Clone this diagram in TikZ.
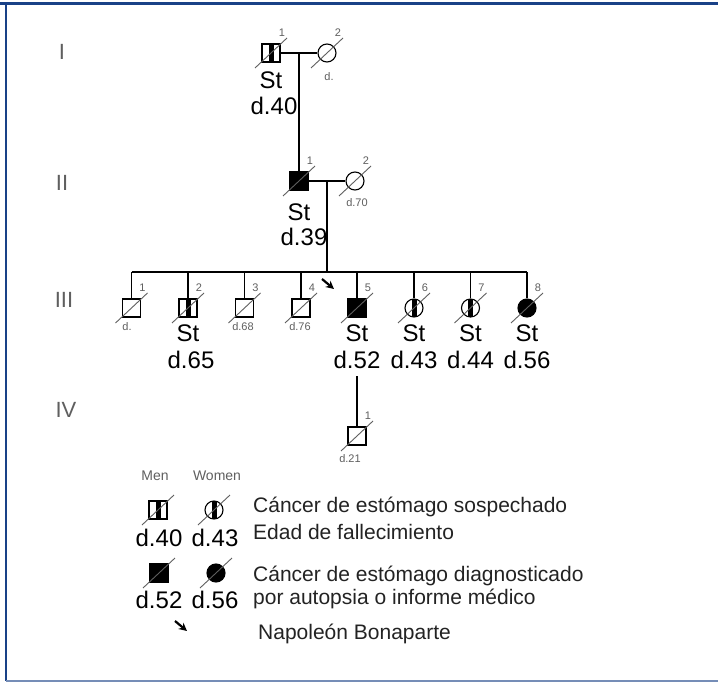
\documentclass[tikz,border=0pt]{standalone}
\usepackage{fontspec}
\setmainfont{Liberation Sans}
\usetikzlibrary{arrows.meta,shapes,positioning,calc}
\definecolor{myblue}{RGB}{25,65,135}
\definecolor{mygray}{RGB}{95,95,95}
\definecolor{mytext}{RGB}{35,35,35}

\begin{document}
\begin{tikzpicture}[x=1pt,y=-1pt,
  man/.style={draw,rectangle,minimum size=18pt,inner sep=0pt,line width=1.1pt},
  woman/.style={draw,circle,minimum size=18pt,inner sep=0pt,line width=1.1pt},
  sick/.style={fill=black},
  doubt/.style={path picture={\fill ([xshift=-2.5pt]path picture bounding box.north) rectangle ([xshift=2.5pt]path picture bounding box.south);}},
  bigtxt/.style={font=\fontsize{24}{24}\selectfont,inner sep=0pt},
  numlab/.style={font=\fontsize{11}{11}\selectfont,mygray,inner sep=0pt},
  gen/.style={font=\fontsize{22}{22}\selectfont,mygray,inner sep=0pt},
  leg/.style={font=\fontsize{21}{21}\selectfont,mytext,anchor=west,inner sep=0pt},
  kin/.style={line width=1.9pt},
  dead/.style={mygray,line width=0.9pt}]
\useasboundingbox (0,0) rectangle (718,682);
\fill[white] (0,0) rectangle (718,682);
\draw[myblue,line width=3pt] (0,3.5) -- (718,3.5);
\draw[myblue,line width=2pt] (5.5,3.5) -- (5.5,681);
\draw[myblue!60,line width=2pt] (5.5,681) -- (718,681);

% generations
\node[gen] (gI) at (62,52) {I};
\node[gen] (gII) at (62,183) {II};
\node[gen] (gIII) at (64,300) {III};
\node[gen] (gIV) at (66,410) {IV};

% I
\node[man,doubt] (i1) at (271,53) {};
\node[woman] (i2) at (327,53) {};
\draw[kin] (i1) -- (i2);
\coordinate (m1) at ($(i1)!0.5!(i2)$);
\node[bigtxt] (i1st) at (271,80) {St};
\node[bigtxt] (i1d) at (274,106) {d.40};

% II
\node[man,sick] (ii1) at (299,181) {};
\node[woman] (ii2) at (355,181) {};
\draw[kin] (ii1) -- (ii2);
\draw[kin] (m1) -- (ii1);
\coordinate (m2) at ($(ii1)!0.5!(ii2)$);
\coordinate (sib) at (327,272);
\draw[kin] (m2) -- (sib);
\node[bigtxt] (ii1st) at (299,212) {St};
\node[bigtxt] (ii1d) at (304,237) {d.39};

% III
\node[man] (iii1) at (131.5,308) {};
\node[man,doubt] (iii2) at (188,308) {};
\node[man] (iii3) at (244.5,308) {};
\node[man] (iii4) at (301,308) {};
\node[man,sick] (iii5) at (357,308) {};
\node[woman,doubt] (iii6) at (414,308) {};
\node[woman,doubt] (iii7) at (470.5,308) {};
\node[woman,sick] (iii8) at (527,308) {};
\draw[kin] (iii1 |- sib) -- (iii8 |- sib);
\foreach \n in {1,...,8}{\draw[kin] (iii\n |- sib) -- (iii\n);}
\node[bigtxt] (iii2st) at (188,333) {St};
\node[bigtxt] (iii2d) at (191,360) {d.65};
\foreach \n/\t in {5/52,6/43,7/44,8/56}{
  \node[bigtxt] (iii\n st) at (iii\n |- 0,333) {St};
  \node[bigtxt] (iii\n d) at (iii\n |- 0,360) {d.\t};
}
\coordinate (pb) at (322,279);
\draw[-{Stealth[length=8pt,width=8pt]},line width=2.2pt] (pb) -- ++(12,10);

% IV
\node[man] (iv1) at (357,436) {};
\draw[kin] ([yshift=-7pt]iii5d.south) -- (iv1);

% numbers and small ages
\foreach \n/\t in {i1/1,i2/2,ii1/1,ii2/2,iii1/1,iii2/2,iii3/3,iii4/4,iii5/5,iii6/6,iii7/7,iii8/8,iv1/1}{
  \node[numlab] (\n no) at ($(\n.center)+(11,-20)$) {\t};
}
\node[numlab] (i2age) at (329,77) {d.};
\node[numlab] (ii2age) at (357,203) {d.70};
\node[numlab] (iii1age) at (127,327) {d.};
\node[numlab] (iii3age) at (243,327) {d.68};
\node[numlab] (iii4age) at (300,327) {d.76};
\node[numlab] (iv1age) at (350,459) {d.21};

% legend
\node[numlab,font=\fontsize{14}{14}\selectfont] (men) at (155,476) {Men};
\node[numlab,font=\fontsize{14}{14}\selectfont] (women) at (217,476) {Women};
\node[man,doubt] (l1) at (158,510) {};
\node[woman,doubt] (l2) at (214,510) {};
\node[bigtxt] (l1d) at (159,538) {d.40};
\node[bigtxt] (l2d) at (215,538) {d.43};
\node[man,sick] (l3) at (159,573) {};
\node[woman,sick] (l4) at (216,573) {};
\node[bigtxt] (l3d) at (159,600) {d.52};
\node[bigtxt] (l4d) at (215,600) {d.56};
\node[leg] (t1) at (253,507) {Cáncer de estómago sospechado};
\node[leg] (t2) at (253,532) {Edad de fallecimiento};
\node[leg] (t3) at (253,576) {Cáncer de estómago diagnosticado};
\node[leg] (t4) at (253,599) {por autopsia o informe médico};
\coordinate (lpb) at (175,621);
\draw[-{Stealth[length=8pt,width=8pt]},line width=2.2pt] (lpb) -- ++(12,10);
\node[leg] (t5) at (258,634) {Napoleón Bonaparte};

% deceased
\foreach \n in {i1,i2,ii1,ii2,iii1,iii2,iii3,iii4,iii5,iii6,iii7,iii8,iv1,l1,l2,l3,l4}{
  \draw[dead] ([shift={(-16pt,-15pt)}]\n.center) -- ([shift={(16pt,15pt)}]\n.center);
}
\end{tikzpicture}
\end{document}
